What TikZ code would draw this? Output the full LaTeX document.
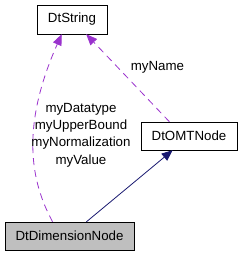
\documentclass[tikz,border=0pt]{standalone}
\usepackage{fontspec}
\setmainfont{Liberation Sans}
\usetikzlibrary{arrows.meta}
\definecolor{edgepurple}{HTML}{9A32CD}
\definecolor{edgenavy}{HTML}{191970}
\begin{document}
\begin{tikzpicture}[x=1pt, y=-1pt,
  cls/.style={rectangle, draw=black, fill=white, inner sep=0pt, minimum height=28pt, font=\fontsize{13.3}{16}\selectfont},
  cur/.style={cls, fill=black!25},
  use/.style={edgepurple, dashed, dash pattern=on 7pt off 5pt, line width=0.8pt, -{Triangle[length=11pt, width=9pt]}},
  inh/.style={edgenavy, line width=0.8pt, -{Triangle[length=11pt, width=9pt]}},
  lbl/.style={font=\fontsize{13.3}{17.3}\selectfont, align=center, inner sep=0pt}]
\useasboundingbox (0,0) rectangle (243,256);
% classes
\node[cls, minimum width=70pt, minimum height=29pt] (str) at (72,19.5) {DtString};
\node[cls, minimum width=96pt] (omt) at (189,136) {DtOMTNode};
\node[cur, minimum width=129pt] (dim) at (69.5,236) {DtDimensionNode};
% members
\draw[use] (omt.144) -- (str.-46);
\node[lbl] (nm) at (157.5,67) {myName};
\draw[use] (dim.140) .. controls (31,182) and (20,128) .. (str.235);
\node[lbl] (mem) at (81,135) {myDatatype\\myUpperBound\\myNormalization\\myValue};
% base class
\draw[inh] (dim.40) -- (omt.221);
\end{tikzpicture}
\end{document}
